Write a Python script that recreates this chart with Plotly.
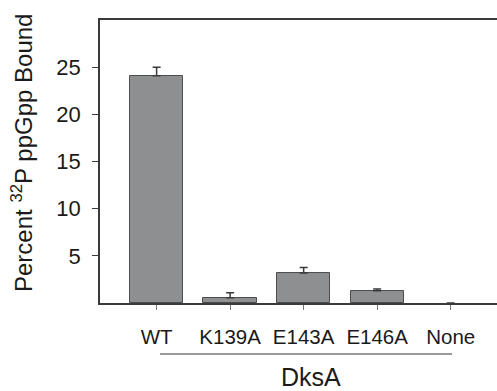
import plotly.graph_objects as go

categories = ["WT", "K139A", "E143A", "E146A", "None"]
values = [24.1, 0.56, 3.17, 1.3, 0.0]
errors = [0.9, 0.53, 0.6, 0.18, None]
ytick_vals = [5, 10, 15, 20, 25]

W, H = 497, 391
ml, mr, mt, mb = 100, 0, 20, 88
pw = W - ml - mr
ph = H - mt - mb

font_family = "Liberation Sans, Arial, sans-serif"
txt = "#1a1a1a"

outline_w = [0 if v == 0 else 1 for v in values]

fig = go.Figure()
fig.add_trace(go.Bar(
    x=categories, y=values, width=0.725,
    marker=dict(color="#8e8f91", line=dict(color="#4d4d4d", width=outline_w)),
    error_y=dict(type="data", array=errors, arrayminus=[0 if e is not None else None for e in errors],
                 symmetric=False, color="#3a3a3a", thickness=1.5, width=4),
))

fig.update_layout(
    width=W, height=H,
    margin=dict(l=ml, r=mr, t=mt, b=mb),
    paper_bgcolor="white", plot_bgcolor="white",
    showlegend=False,
    font=dict(family=font_family, color=txt, size=20),
    bargap=0,
)
fig.update_xaxes(
    range=[-0.77, 4.63], showgrid=False, zeroline=False,
    showline=True, linecolor="#3a3a3a", linewidth=1.5, mirror=True,
    ticks="outside", ticklen=5, tickcolor="#777", tickwidth=1,
    tickfont=dict(size=20.5, family=font_family, color=txt),
    ticklabelstandoff=10,
)
fig.update_yaxes(
    range=[0, 30], tickvals=ytick_vals, showgrid=False, zeroline=False,
    showline=True, linecolor="#3a3a3a", linewidth=1.5,
    ticks="outside", ticklen=6, tickcolor="#3a3a3a", tickwidth=1,
    tickfont=dict(size=22, family=font_family, color=txt),
    ticklabelstandoff=7,
)

def px_x(p):
    return (p - ml) / pw
def px_y(p):
    return (H - mb - p) / ph

# y-axis title
fig.add_annotation(
    text="Percent <sup>32</sup>P ppGpp Bound", textangle=-90,
    xref="paper", yref="paper", x=px_x(22), y=px_y(153),
    xanchor="center", yanchor="middle", showarrow=False,
    font=dict(size=24, family=font_family, color=txt),
)
# group underline
fig.add_shape(type="line", xref="paper", yref="paper",
              x0=px_x(160), x1=px_x(452), y0=px_y(354), y1=px_y(354),
              line=dict(color="#777", width=1.5))
# group label
fig.add_annotation(
    text="DksA", xref="paper", yref="paper", x=px_x(311), y=px_y(377),
    xanchor="center", yanchor="middle", showarrow=False,
    font=dict(size=25, family=font_family, color=txt),
)

fig.write_html("out.html", config={"displayModeBar": False},
               post_script="document.body.style.margin='0';document.body.style.overflow='hidden';")
